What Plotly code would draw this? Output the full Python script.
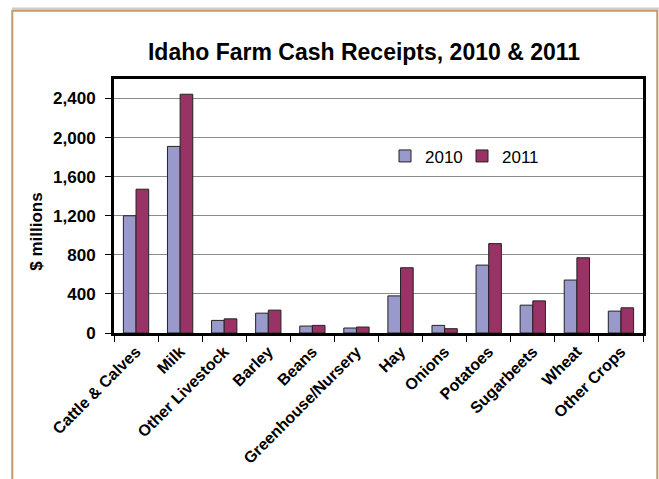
import plotly.graph_objects as go

categories = ["Cattle & Calves", "Milk", "Other Livestock", "Barley", "Beans",
              "Greenhouse/Nursery", "Hay", "Onions", "Potatoes", "Sugarbeets",
              "Wheat", "Other Crops"]
values_2010 = [1200, 1910, 129, 203, 71, 51, 380, 78, 695, 285, 542, 224]
values_2011 = [1472, 2444, 145, 234, 78, 61, 668, 44, 915, 329, 770, 258]
y_ticks = [0, 400, 800, 1200, 1600, 2000, 2400]

W, H = 659, 479
L, R, T, B = 114, 643, 79, 335
FONT = "Liberation Sans, Arial, sans-serif"

def px(x):
    return (x - L) / (R - L)

def py(y):
    return (B - y) / (B - T)

fig = go.Figure()
fig.add_trace(go.Bar(name="2010", x=categories, y=values_2010,
                     marker=dict(color="#9999CC", line=dict(color="#222222", width=1))))
fig.add_trace(go.Bar(name="2011", x=categories, y=values_2011,
                     marker=dict(color="#993366", line=dict(color="#222222", width=1))))

fig.update_layout(
    width=W, height=H,
    margin=dict(l=L, r=W - R, t=T, b=H - B, pad=0),
    paper_bgcolor="white", plot_bgcolor="white",
    barmode="group", bargap=0.426, bargroupgap=0,
    font=dict(family=FONT, color="black"),
    title=dict(text="<b>Idaho Farm Cash Receipts, 2010 &amp; 2011</b>",
               x=364 / W, xanchor="center", y=1 - 52 / H, yanchor="middle",
               font=dict(size=23, family=FONT, color="black")),
    legend=dict(orientation="h", x=px(385), y=py(157), xanchor="left", yanchor="middle",
                font=dict(size=17, family=FONT, color="black"),
                bgcolor="rgba(0,0,0,0)", itemwidth=30, traceorder="normal",
                entrywidth=32, entrywidthmode="pixels"),
    xaxis=dict(type="category", tickangle=-45, tickson="boundaries",
               ticks="outside", ticklen=6, tickcolor="black", tickwidth=1,
               showline=True, linecolor="black", linewidth=3, mirror=True,
               showgrid=False,
               tickfont=dict(size=16, family=FONT, color="black", weight="bold")),
    yaxis=dict(range=[0, 2600], tickvals=y_ticks, tickformat=",d",
               ticks="outside", ticklen=6, tickcolor="black", tickwidth=1,
               ticklabelstandoff=6,
               showline=True, linecolor="black", linewidth=3, mirror=True,
               showgrid=True, gridcolor="#8a8a8a", gridwidth=1, zeroline=False,
               tickfont=dict(size=17, family=FONT, color="black", weight="bold")),
    showlegend=True,
)

fig.add_annotation(text="<b>$ millions</b>", xref="paper", yref="paper",
                   x=px(37), y=py(233), textangle=-90, showarrow=False,
                   xanchor="center", yanchor="middle",
                   font=dict(size=17, family=FONT, color="black"))

# outer frame
fig.add_shape(type="rect", xref="paper", yref="paper",
              x0=px(12), x1=px(659), y0=py(7), y1=py(9.2),
              fillcolor="#CCCCCC", line=dict(width=0), layer="below")
fig.add_shape(type="rect", xref="paper", yref="paper",
              x0=px(12.3), x1=px(657.3), y0=py(10.3), y1=py(495),
              fillcolor="rgba(0,0,0,0)", line=dict(color="#C49A6C", width=2), layer="below")

fig.write_html("out.html", config={"displayModeBar": False},
               post_script="document.body.style.margin='0';document.body.style.overflow='hidden';")
